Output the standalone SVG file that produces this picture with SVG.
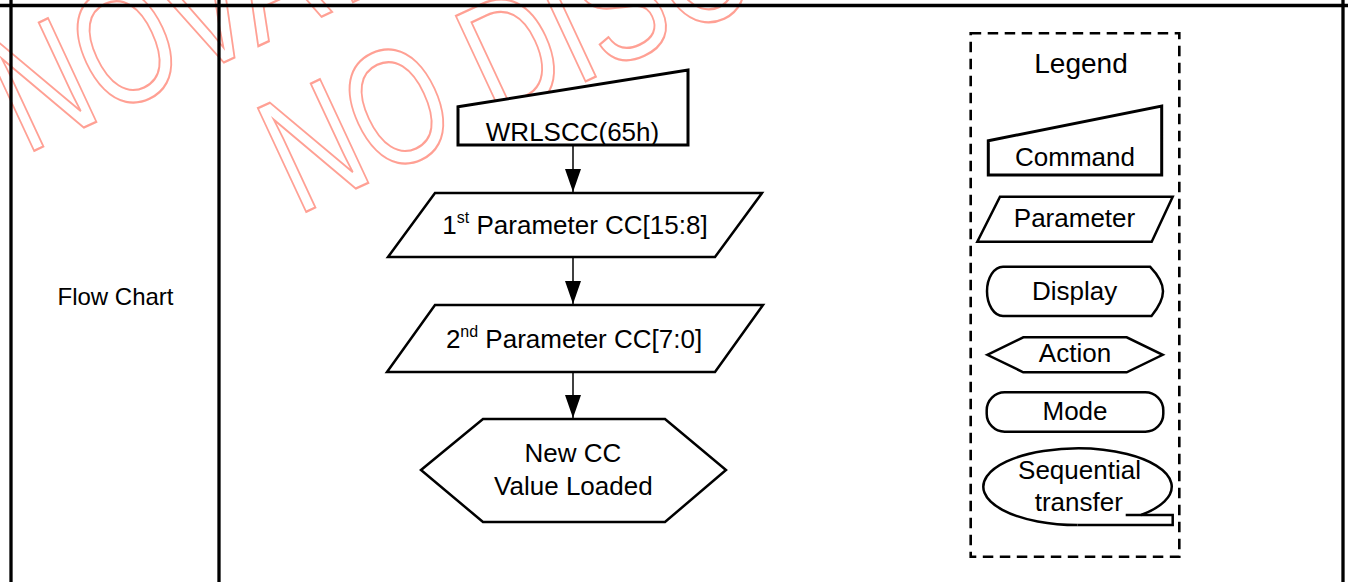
<svg xmlns="http://www.w3.org/2000/svg" width="1348" height="582" viewBox="0 0 1348 582">
<style>
.t{font-family:"Liberation Sans",Arial,Helvetica,sans-serif;font-size:26px;text-anchor:middle;fill:#000}
.sh{fill:#fff;stroke:#000;stroke-width:2.5;stroke-linejoin:miter}
.wm{fill:none;stroke:#ffa094;stroke-width:2.3;font-family:"Liberation Sans",Arial,sans-serif;font-size:166px}
.ln{stroke:#000;stroke-width:1.5;fill:none}
</style>
<defs>
<marker id="ah" viewBox="0 0 23 16" refX="23" refY="8" markerWidth="23" markerHeight="16" orient="auto" markerUnits="userSpaceOnUse"><path d="M0,0 L23,8 L0,16 z" fill="#000"/></marker>
</defs>
<rect width="1348" height="582" fill="#fff"/>
<g id="watermark">
<text class="wm" transform="translate(25,155) rotate(-25) scale(0.74,1)">NOVATEK</text>
<text class="wm" transform="translate(297,216) rotate(-25) scale(0.74,1)">NO DISCLOSURE</text>
</g>
<g id="table" stroke="#000" stroke-width="3.3">
<line x1="0" y1="5.5" x2="1348" y2="5.5"/>
<line x1="11" y1="0" x2="11" y2="582"/>
<line x1="219" y1="0" x2="219" y2="582"/>
<line x1="1343" y1="0" x2="1343" y2="582"/>
</g>
<g id="row-label"><text class="t" x="115.5" y="305" style="font-size:24px">Flow Chart</text></g>
<g id="connectors">
<line class="ln" x1="573" y1="146" x2="573" y2="192" marker-end="url(#ah)"/>
<line class="ln" x1="573" y1="258" x2="573" y2="304" marker-end="url(#ah)"/>
<line class="ln" x1="573" y1="373" x2="573" y2="418" marker-end="url(#ah)"/>
</g>
<g id="n-cmd">
<polygon class="sh" style="stroke-width:3" points="458,106.7 688,70 688,145 458,145"/>
<text class="t" x="572.5" y="140.5">WRLSCC(65h)</text>
</g>
<g id="n-p1">
<polygon class="sh" points="435,193 762,193 715,257 388,257"/>
<text class="t" x="575" y="234">1<tspan dy="-11" style="font-size:16px">st</tspan><tspan dy="11"> Parameter CC[15:8]</tspan></text>
</g>
<g id="n-p2">
<polygon class="sh" points="435,305 763,305 715,372 387,372"/>
<text class="t" x="574" y="348">2<tspan dy="-11" style="font-size:16px">nd</tspan><tspan dy="11"> Parameter CC[7:0]</tspan></text>
</g>
<g id="n-done">
<polygon class="sh" points="421,470 483,419 665,419 726,470 665,522 483,522"/>
<text class="t" x="573" y="462">New CC</text>
<text class="t" x="573.4" y="494.5">Value Loaded</text>
</g>
<g id="legend">
<rect x="970.7" y="33.3" width="208.6" height="523.4" fill="none" stroke="#000" stroke-width="2.6" stroke-dasharray="10.5 6.5"/>
<text class="t" x="1081" y="73" style="font-size:28px">Legend</text>
</g>
<g id="lg-command">
<polygon class="sh" style="stroke-width:3" points="988.3,140.7 1161.7,106 1161.7,175 988.3,175"/>
<text class="t" x="1075" y="166">Command</text>
</g>
<g id="lg-parameter">
<polygon class="sh" points="1000,196.7 1172.7,196.7 1151.7,241.7 977.3,241.7"/>
<text class="t" x="1074.5" y="227">Parameter</text>
</g>
<g id="lg-display">
<path class="sh" d="M1003,266.7 L1150,266.7 C1157,274 1163,283 1163,291.3 C1163,300 1158,308 1151.5,316 L1003,316 A16,24.65 0 0 1 1003,266.7 Z"/>
<text class="t" x="1074.7" y="299.5">Display</text>
</g>
<g id="lg-action">
<polygon class="sh" points="987.3,354.8 1023.3,337.3 1126.7,337.3 1162.7,354.8 1126.7,372.3 1023.3,372.3"/>
<text class="t" x="1075" y="362">Action</text>
</g>
<g id="lg-mode">
<rect class="sh" x="986.7" y="392.3" width="176.6" height="39.4" rx="18" ry="18"/>
<text class="t" x="1075" y="419.5">Mode</text>
</g>
<g id="lg-seq">
<path class="sh" d="M1077.5,525.05 A94.2,38.35 0 1 1 1141.1,515"/>
<path class="sh" style="fill:none" d="M1125.7,515 L1172.7,515 L1172.7,525.05 L1077.5,525.05"/>
<text class="t" x="1079.5" y="478.5">Sequential</text>
<text class="t" x="1078.8" y="511">transfer</text>
</g>
</svg>
